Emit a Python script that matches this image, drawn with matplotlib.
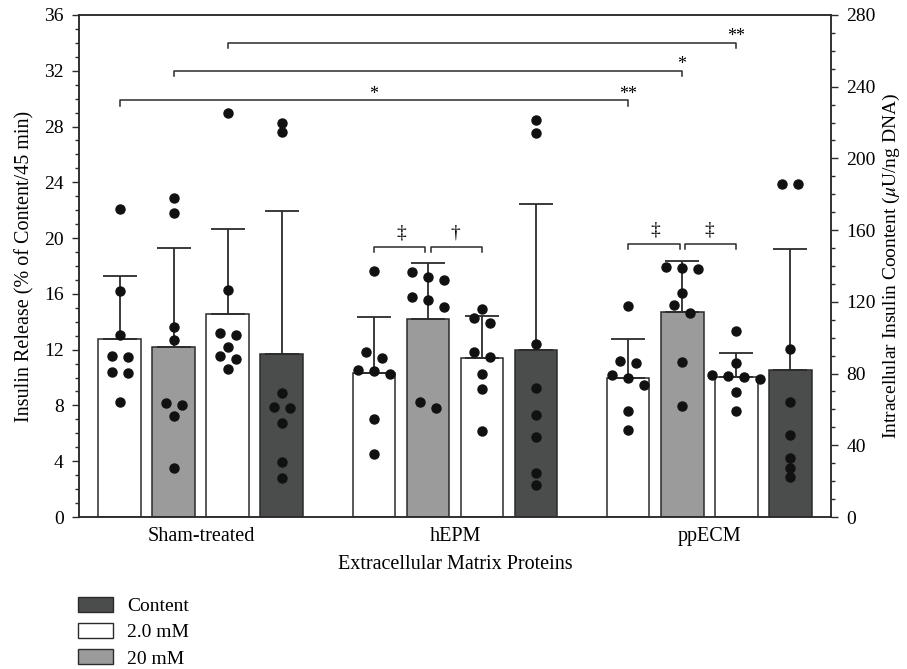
import numpy as np
import matplotlib
matplotlib.use("Agg")
import matplotlib.pyplot as plt
from matplotlib.patches import Patch
from matplotlib.ticker import MultipleLocator

plt.rcParams["font.family"] = ["Liberation Serif", "DejaVu Serif"]
plt.rcParams["mathtext.fontset"] = "stix"

groups = ["Sham-treated", "hEPM", "ppECM"]

# insulin release, % of content / 45 min (left axis)
basal1_mean = [12.79, 10.30, 9.99]
basal1_sd = [4.52, 4.02, 2.75]
stim_mean = [12.17, 14.22, 14.72]
stim_sd = [7.12, 4.02, 3.64]
basal2_mean = [14.54, 11.43, 10.06]
basal2_sd = [6.14, 3.01, 1.72]
# insulin content, uU/ng DNA (right axis)
content_mean = [90.9, 93.3, 82.0]
content_sd = [80.0, 81.1, 67.5]

basal1_pts = [[22.07, 16.2, 13.05, 11.55, 11.45, 10.42, 10.3, 8.22],
              [17.66, 11.86, 11.38, 10.54, 10.49, 10.26, 7.03, 4.54],
              [15.13, 11.19, 11.04, 10.18, 9.99, 9.47, 7.6, 6.24]]
stim_pts = [[22.88, 21.8, 13.6, 12.69, 8.18, 8.03, 7.22, 3.51],
            [17.59, 17.19, 16.97, 15.8, 15.56, 15.08, 8.25, 7.82],
            [17.95, 17.88, 17.79, 16.06, 15.2, 14.6, 11.14, 7.96]]
basal2_pts = [[28.95, 16.26, 13.17, 13.05, 12.21, 11.55, 11.33, 10.59],
              [14.92, 14.25, 13.89, 11.86, 11.45, 10.23, 9.18, 6.19],
              [13.36, 11.02, 10.18, 10.11, 10.02, 9.87, 8.94, 7.6]]
content_pts = [[219.8, 214.7, 69.1, 61.4, 61.0, 52.4, 30.5, 21.9],
               [221.4, 214.4, 96.5, 72.1, 57.1, 44.4, 24.4, 17.7],
               [185.7, 185.7, 93.7, 64.0, 45.9, 33.1, 27.5, 22.1]]

# significance annotations
star_levels = [29.9, 32.0, 34.0]
dagger_levels = [None, 19.36, 19.6]
dagger_marks = [None, ("\u2021", "\u2020"), ("\u2021", "\u2021")]

white = "white"
gray = "#9b9b9b"
dark = "#4b4d4d"
edge = "#2b2b2b"
fs = 14.5

fig = plt.figure(figsize=(9.07, 6.69), dpi=100)
ax = fig.add_axes([0.0871, 0.2272, 0.8291, 0.7504])
ax2 = ax.twinx()

x = np.arange(len(groups))
w = 0.169
step = 0.2126
pos = [x - 1.5*step, x - 0.5*step, x + 0.5*step, x + 1.5*step]


def swarm(vals, thr, s=0.063):
    # spread points that sit at nearly the same height
    vals = np.asarray(vals)
    order = np.argsort(-vals)
    offs = np.zeros(len(vals))
    clusters = [[order[0]]]
    for i in order[1:]:
        if vals[clusters[-1][-1]] - vals[i] < thr:
            clusters[-1].append(i)
        else:
            clusters.append([i])
    for c in clusters:
        n = len(c)
        for k, i in enumerate(c):
            offs[i] = (k - (n - 1) / 2) * s
    return offs


series = [(basal1_mean, basal1_sd, basal1_pts, white, ax, 0.6),
          (stim_mean, stim_sd, stim_pts, gray, ax, 0.6),
          (basal2_mean, basal2_sd, basal2_pts, white, ax, 0.6),
          (content_mean, content_sd, content_pts, dark, ax2, 0.6*280/36)]

for p, (m, sd, pts, col, a, thr) in zip(pos, series):
    a.bar(p, m, width=w, color=col, edgecolor=edge, linewidth=1.1, zorder=2)
    a.errorbar(p, m, yerr=[np.zeros(len(m)), sd], fmt="none", ecolor=edge,
               elinewidth=1.3, capsize=12.5, capthick=1.3, zorder=3)
    for xi, vals in zip(p, pts):
        a.plot(xi + swarm(vals, thr), vals, "o", color="#111111", ms=6.5,
               zorder=4, clip_on=False)

# bracket helper
def bracket(x0, x1, y, tick, lw=1.1):
    ax.plot([x0, x0, x1, x1], [y - tick, y, y, y - tick], color=edge, lw=lw,
            zorder=5, clip_on=False)

# long comparisons against sham
for j, y in enumerate(star_levels):
    bracket(pos[j][0], pos[j][2], y, 0.4)
ax.text(pos[0][1], star_levels[0] + 0.1, "*", ha="center", va="baseline", fontsize=13)
ax.text(pos[0][2], star_levels[0] + 0.1, "**", ha="center", va="baseline", fontsize=13)
ax.text(pos[1][2], star_levels[1] + 0.1, "*", ha="center", va="baseline", fontsize=13)
ax.text(pos[2][2], star_levels[2] + 0.1, "**", ha="center", va="baseline", fontsize=13)

# within-group comparisons
gap = 0.01
for g in range(len(groups)):
    y = dagger_levels[g]
    if y is None:
        continue
    l, r = dagger_marks[g]
    bracket(pos[0][g], pos[1][g] - gap, y, 0.38)
    bracket(pos[1][g] + gap, pos[2][g], y, 0.38)
    ax.text((pos[0][g] + pos[1][g]) / 2, y + 1.0, l, ha="center", va="center", fontsize=14)
    ax.text((pos[1][g] + pos[2][g]) / 2, y + 1.0, r, ha="center", va="center", fontsize=14)

ax.set_xlim(-0.48, 2.48)
ax.set_ylim(0, 36)
ax2.set_ylim(0, 280)
ax.set_xticks(x)
ax.set_xticklabels(groups, fontsize=fs)
ax.tick_params(axis="x", length=0, pad=7)
ax.yaxis.set_major_locator(MultipleLocator(4))
ax.yaxis.set_minor_locator(MultipleLocator(1))
ax2.yaxis.set_major_locator(MultipleLocator(40))
ax2.yaxis.set_minor_locator(MultipleLocator(10))
for a in (ax, ax2):
    a.tick_params(axis="y", which="major", direction="out", length=5, width=1,
                  labelsize=14, color=edge, pad=6)
    a.tick_params(axis="y", which="minor", direction="out", length=3, width=1, color=edge)
    for sp in a.spines.values():
        sp.set_color(edge)
        sp.set_linewidth(1.1)

ax.set_xlabel("Extracellular Matrix Proteins", fontsize=fs, labelpad=7)
ax.set_ylabel("Insulin Release (% of Content/45 min)", fontsize=fs, labelpad=7)
ax2.set_ylabel(r"Intracellular Insulin Coontent ($\mu$U/ng DNA)", fontsize=14, labelpad=4)

handles = [Patch(facecolor=dark, edgecolor=edge, label="Content"),
           Patch(facecolor=white, edgecolor=edge, label="2.0 mM"),
           Patch(facecolor=gray, edgecolor=edge, label="20 mM")]
fig.legend(handles=handles, loc="upper left", bbox_to_anchor=(78/907, 1 - 597/669),
           frameon=False, fontsize=14, handlelength=1.8, handleheight=0.78,
           handletextpad=0.72, labelspacing=0.42, borderpad=0, borderaxespad=0)

fig.savefig("out.png", dpi=100)
